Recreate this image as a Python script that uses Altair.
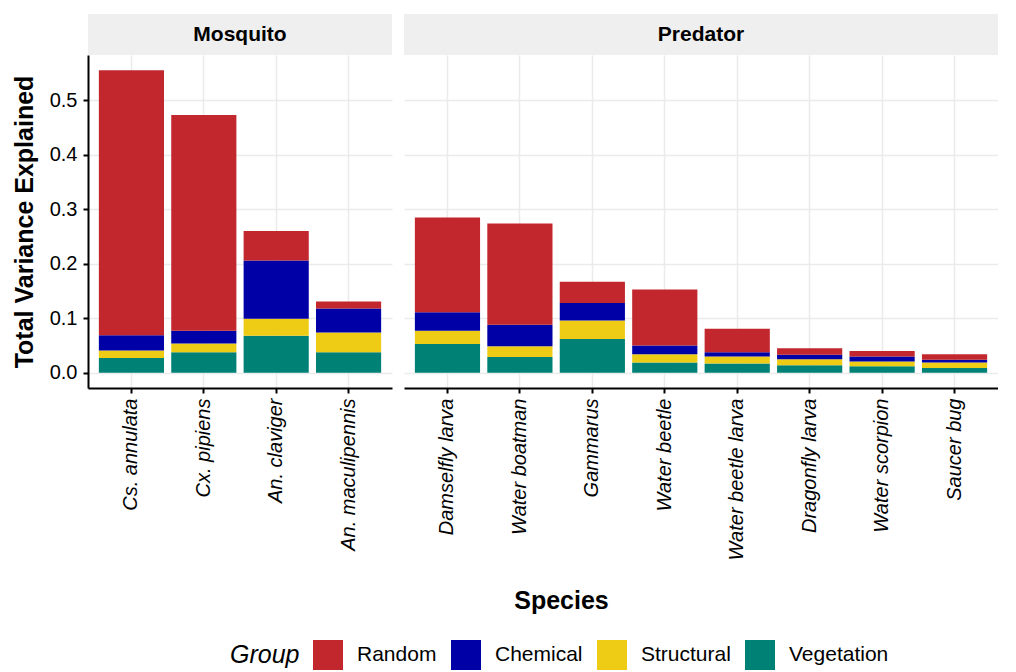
import altair as alt
import pandas as pd

panels = ["Mosquito", "Predator"]
species_mosquito = ["Cs. annulata", "Cx. pipiens", "An. claviger", "An. maculipennis"]
species_predator = ["Damselfly larva", "Water boatman", "Gammarus", "Water beetle",
                    "Water beetle larva", "Dragonfly larva", "Water scorpion", "Saucer bug"]

groups = ["Random", "Chemical", "Structural", "Vegetation"]
colors = ["#C1272D", "#0000A7", "#EECC16", "#008176"]
stack_rank = {"Vegetation": 0, "Structural": 1, "Chemical": 2, "Random": 3}

# values in order: mosquito species then predator species
vegetation = [0.027, 0.038, 0.068, 0.038,
              0.053, 0.029, 0.062, 0.019, 0.017, 0.014, 0.012, 0.009]
structural = [0.014, 0.016, 0.031, 0.036,
              0.024, 0.020, 0.034, 0.015, 0.013, 0.011, 0.009, 0.010]
chemical = [0.028, 0.023, 0.107, 0.044,
            0.034, 0.039, 0.032, 0.016, 0.008, 0.008, 0.009, 0.005]
random_ = [0.486, 0.396, 0.054, 0.013,
           0.174, 0.186, 0.039, 0.103, 0.043, 0.012, 0.010, 0.010]

all_species = species_mosquito + species_predator
all_panels = ["Mosquito"] * len(species_mosquito) + ["Predator"] * len(species_predator)
series = {"Vegetation": vegetation, "Structural": structural,
          "Chemical": chemical, "Random": random_}

rows = []
for g, vals in series.items():
    for sp, pn, v in zip(all_species, all_panels, vals):
        rows.append({"species": sp, "panel": pn, "group": g, "value": v,
                     "rank": stack_rank[g]})
df = pd.DataFrame(rows)

STEP = 72.5
H = 333
FONT = "Liberation Sans"
CENTER_X = 561
ML = 88  # left edge of first panel on the page


def make_panel(name, species, first):
    w = round(STEP * (len(species) + 0.2))
    d = df[df.panel == name]
    if first:
        yaxis = alt.Axis(title="Total Variance Explained", values=[0, 0.1, 0.2, 0.3, 0.4, 0.5],
                         format=".1f", labelFontSize=20, titleFontSize=25,
                         titleFontWeight="bold", titlePadding=12, tickSize=5,
                         labelPadding=6, domain=True, ticks=True, grid=True)
        xaxis = alt.Axis(title=None, labelAngle=270, labelFontSize=20,
                         labelFontStyle="italic", tickSize=5, labelPadding=5,
                         bandPosition=0.5, grid=True)
    else:
        yaxis = alt.Axis(title=None, values=[0, 0.1, 0.2, 0.3, 0.4, 0.5],
                         labels=False, ticks=False, domain=False, grid=True)
        mosq_w = round(STEP * (len(species_mosquito) + 0.2))
        px0 = ML + mosq_w + 12
        xaxis = alt.Axis(title="Species", labelAngle=270, labelFontSize=20,
                         labelFontStyle="italic", tickSize=5, labelPadding=5,
                         bandPosition=0.5, grid=True, titleFontSize=25,
                         titleFontWeight="bold",
                         titleX=CENTER_X - px0, titleY=212, titleBaseline="middle",
                         titleAlign="center")
    bars = alt.Chart(d).mark_bar().encode(
        x=alt.X("species:N", sort=species,
                scale=alt.Scale(paddingInner=0.1, paddingOuter=0.15), axis=xaxis),
        y=alt.Y("value:Q", stack="zero",
                scale=alt.Scale(domain=[-0.0278, 0.583], nice=False, zero=False),
                axis=yaxis),
        color=alt.Color("group:N", scale=alt.Scale(domain=groups, range=colors),
                        legend=alt.Legend(title="Group", orient="none", direction="horizontal",
                                          legendX=142, legendY=585,
                                          titleOrient="left", titleFontSize=25,
                                          titleFontStyle="italic", titleFontWeight="normal",
                                          titlePadding=13, labelFontSize=21,
                                          symbolType="square", symbolSize=900,
                                          symbolStrokeWidth=0, labelOffset=14,
                                          columnPadding=14)),
        order=alt.Order("rank:Q", sort="ascending"),
    )
    strip_df = pd.DataFrame({"panel": [name]})
    strip = alt.Chart(strip_df).mark_rect(color="#EFEFEF").encode(
        x=alt.value(0), x2=alt.value(w), y=alt.value(-41), y2=alt.value(0))
    strip_text = alt.Chart(strip_df).mark_text(fontSize=21, fontWeight="bold",
                                               color="black", baseline="middle").encode(
        x=alt.value(w / 2), y=alt.value(-20.5), text="panel:N")
    return alt.layer(bars, strip, strip_text).properties(width=w, height=H)


left = make_panel("Mosquito", species_mosquito, True)
right = make_panel("Predator", species_predator, False)

chart = alt.hconcat(left, right, spacing=12).properties(
    padding={"left": 4, "top": 6, "right": 0, "bottom": 0}
).configure(font=FONT).configure_view(strokeWidth=0).configure_axis(
    domainColor="black", domainWidth=2, tickColor="black", tickWidth=2,
    labelColor="black", titleColor="black", gridColor="#EBEBEB", gridWidth=1.5
).configure_legend(labelColor="black", titleColor="black")

chart.save("out.html", embed_options={"renderer": "svg", "actions": False})
